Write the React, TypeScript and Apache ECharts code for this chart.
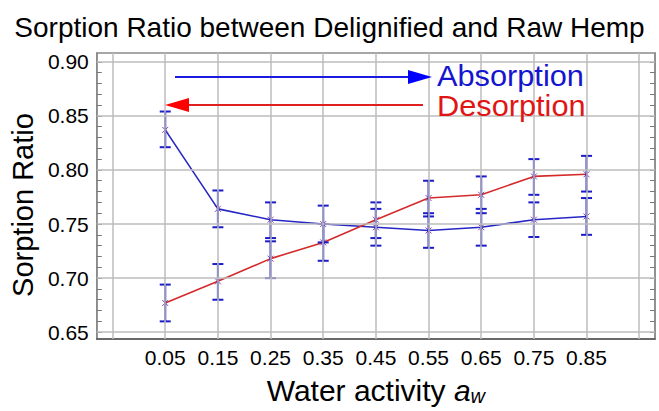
import React, { useEffect, useRef } from "react";
import * as echarts from "echarts";

const waterActivity = [0.05, 0.15, 0.25, 0.35, 0.45, 0.55, 0.65, 0.75, 0.85];
const absorption = [0.837, 0.764, 0.754, 0.750, 0.747, 0.744, 0.747, 0.754, 0.757];
const absorptionLow = [0.821, 0.747, 0.737, 0.733, 0.730, 0.728, 0.730, 0.738, 0.740];
const absorptionHigh = [0.854, 0.781, 0.770, 0.767, 0.764, 0.760, 0.764, 0.770, 0.774];
const desorption = [0.677, 0.697, 0.718, 0.733, 0.754, 0.774, 0.777, 0.794, 0.796];
const desorptionLow = [0.660, 0.680, 0.700, 0.716, 0.737, 0.757, 0.760, 0.777, 0.780];
const desorptionHigh = [0.694, 0.713, 0.734, 0.750, 0.770, 0.790, 0.794, 0.810, 0.813];

const xTickLabels = [0.05, 0.15, 0.25, 0.35, 0.45, 0.55, 0.65, 0.75, 0.85];
const xGridValues = [-0.05, 0.05, 0.15, 0.25, 0.35, 0.45, 0.55, 0.65, 0.75, 0.85, 0.95];
const yTickLabels = [0.65, 0.7, 0.75, 0.8, 0.85, 0.9];
const yMinorTicks = [
  0.65, 0.66, 0.67, 0.68, 0.69, 0.7, 0.71, 0.72, 0.73, 0.74, 0.75, 0.76, 0.77,
  0.78, 0.79, 0.8, 0.81, 0.82, 0.83, 0.84, 0.85, 0.86, 0.87, 0.88, 0.89, 0.9,
];

const FONT = "'Liberation Sans', Arial, sans-serif";
const GRID_COLOR = "#bdbdbd";

export default function App() {
  const ref = useRef<HTMLDivElement>(null);

  useEffect(() => {
    if (!ref.current) return;
    const chart = echarts.init(ref.current, null, { renderer: "svg" });

    const absSeries = waterActivity.map((x, i) => [x, absorption[i]]);
    const desSeries = waterActivity.map((x, i) => [x, desorption[i]]);
    const errData = [
      ...waterActivity.map((x, i) => [x, absorptionLow[i], absorptionHigh[i]]),
      ...waterActivity.map((x, i) => [x, desorptionLow[i], desorptionHigh[i]]),
    ];

    const crossSymbol = "path://M0,0L10,10M10,0L0,10";

    const yAxisCommon = {
      type: "value",
      min: 0.6437,
      max: 0.9081,
      axisLine: { show: true, onZero: false, lineStyle: { color: "#8a8a8a", width: 1.5 } },
      axisTick: {
        show: true,
        inside: true,
        length: 5,
        customValues: yMinorTicks,
        lineStyle: { color: "#777", width: 1 },
      },
      splitLine: { show: false },
    };

    const option: any = {
      animation: false,
      textStyle: { fontFamily: FONT },
      title: {
        text: "Sorption Ratio between Delignified and Raw Hemp",
        left: "center",
        top: 8,
        textStyle: {
          fontFamily: FONT,
          fontSize: 28,
          fontWeight: "normal",
          color: "#000",
          lineHeight: 28,
        },
      },
      grid: {
        left: 93,
        right: 4,
        top: 53,
        bottom: 65,
        show: true,
        borderColor: "#8a8a8a",
        borderWidth: 1.5,
        backgroundColor: "#fff",
      },
      xAxis: {
        type: "value",
        min: -0.08,
        max: 0.98,
        name: "Water activity {i|a}{s|w}",
        nameLocation: "middle",
        nameGap: 35,
        nameTextStyle: {
          fontFamily: FONT,
          fontSize: 30,
          color: "#000",
          rich: {
            i: { fontFamily: FONT, fontSize: 30, fontStyle: "italic", color: "#000" },
            s: {
              fontFamily: FONT,
              fontSize: 20,
              fontStyle: "italic",
              color: "#000",
              padding: [12, 0, 0, 0],
            },
          },
        },
        axisLine: { show: true, onZero: false, lineStyle: { color: "#555", width: 1.5 } },
        axisTick: { show: false },
        splitLine: { show: false },
        axisLabel: {
          customValues: xTickLabels,
          formatter: (v: number) => v.toFixed(2),
          fontFamily: FONT,
          fontSize: 21,
          color: "#000",
          margin: 8,
        },
      },
      yAxis: [
        {
          ...yAxisCommon,
          name: "Sorption Ratio",
          nameLocation: "middle",
          nameGap: 52,
          nameTextStyle: { fontFamily: FONT, fontSize: 29, color: "#000", padding: [0, 18, 0, 0] },
          axisLabel: {
            customValues: yTickLabels,
            formatter: (v: number) => v.toFixed(2),
            fontFamily: FONT,
            fontSize: 21,
            color: "#000",
            margin: 8,
          },
        },
        {
          ...yAxisCommon,
          position: "right",
          axisLabel: { show: false },
        },
      ],
      series: [
        {
          name: "grid",
          type: "line",
          data: [],
          z: 1,
          silent: true,
          markLine: {
            silent: true,
            symbol: ["none", "none"],
            label: { show: false },
            lineStyle: { color: GRID_COLOR, width: 1.5, type: "solid" },
            data: [
              ...xGridValues.map((v) => ({ xAxis: v })),
              ...yTickLabels.map((v) => ({ yAxis: v })),
            ],
          },
        },
        {
          name: "Absorption",
          type: "line",
          data: absSeries,
          z: 3,
          symbol: crossSymbol,
          symbolSize: 6,
          lineStyle: { color: "#2626c4", width: 1.6 },
          itemStyle: { color: "transparent", borderColor: "#8a4aa6", borderWidth: 1 },
        },
        {
          name: "Desorption",
          type: "line",
          data: desSeries,
          z: 3,
          symbol: crossSymbol,
          symbolSize: 6,
          lineStyle: { color: "#d42a2a", width: 1.6 },
          itemStyle: { color: "transparent", borderColor: "#8a4aa6", borderWidth: 1 },
        },
        {
          name: "errors",
          type: "custom",
          z: 4,
          data: errData,
          encode: { x: 0, y: [1, 2] },
          renderItem: (params: any, api: any) => {
            const x = api.value(0);
            const lo = api.coord([x, api.value(1)]);
            const hi = api.coord([x, api.value(2)]);
            const hw = 5.5;
            const style = { stroke: "#1c1cc8", lineWidth: 2 };
            return {
              type: "group",
              children: [
                { type: "line", shape: { x1: lo[0], y1: lo[1], x2: hi[0], y2: hi[1] }, style },
                { type: "line", shape: { x1: lo[0] - hw, y1: lo[1], x2: lo[0] + hw, y2: lo[1] }, style },
                { type: "line", shape: { x1: hi[0] - hw, y1: hi[1], x2: hi[0] + hw, y2: hi[1] }, style },
              ],
            };
          },
        },
      ],
      graphic: [
        {
          type: "line",
          shape: { x1: 175, y1: 77, x2: 410, y2: 77 },
          style: { stroke: "#1a1ae0", lineWidth: 2 },
          z: 10,
        },
        {
          type: "polygon",
          shape: { points: [[408, 70], [432, 77], [408, 84]] },
          style: { fill: "#0000ff" },
          z: 10,
        },
        {
          type: "text",
          x: 437,
          y: 76,
          scaleX: 1.06,
          style: {
            text: "Absorption",
            fill: "#1515d0",
            font: `29px ${FONT}`,
            textVerticalAlign: "middle",
            verticalAlign: "middle",
          },
          z: 10,
        },
        {
          type: "line",
          shape: { x1: 188, y1: 105, x2: 423, y2: 105 },
          style: { stroke: "#e02020", lineWidth: 2 },
          z: 10,
        },
        {
          type: "polygon",
          shape: { points: [[189, 98], [165, 105], [189, 112]] },
          style: { fill: "#ff0000" },
          z: 10,
        },
        {
          type: "text",
          x: 437,
          y: 106,
          scaleX: 1.06,
          style: {
            text: "Desorption",
            fill: "#e01515",
            font: `29px ${FONT}`,
            textVerticalAlign: "middle",
            verticalAlign: "middle",
          },
          z: 10,
        },
      ],
    };

    chart.setOption(option);
    return () => chart.dispose();
  }, []);

  return (
    <div
      ref={ref}
      style={{ position: "fixed", left: 0, top: 0, width: 659, height: 411, background: "#fff" }}
    />
  );
}
